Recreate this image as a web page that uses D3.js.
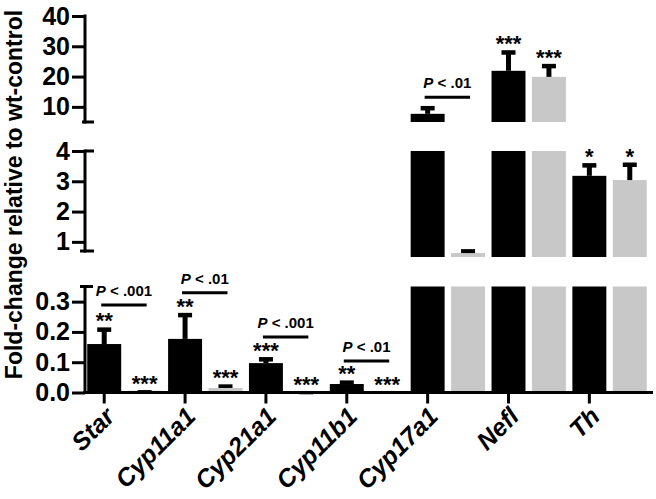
<!DOCTYPE html>
<html><head><meta charset="utf-8">
<script src="https://cdn.jsdelivr.net/npm/d3@7"></script>
<style>
body{margin:0;background:#fff}
svg text{font-family:"Liberation Sans",Arial,sans-serif;font-weight:bold;fill:#000}
</style>
</head><body><svg id="c" width="656" height="499"></svg>
<script>
const genes = ["Star","Cyp11a1","Cyp21a1","Cyp11b1","Cyp17a1","Nefl","Th"];
const series = ["black","grey"];
const blackValues = [0.160, 0.177, 0.097, 0.028, 7.7, 21.9, 3.18];
const blackErrors = [0.055, 0.086, 0.020, 0.012, 2.6, 6.8, 0.42];
const greyValues  = [0.006, 0.015, 0.003, 0.004, 0.63, 19.9, 3.04];
const greyErrors  = [0.002, 0.012, 0.001, 0.001, 0.13, 4.3, 0.58];
const blackStars = ["**","**","***","**","","***","*"];
const greyStars  = ["***","***","***","***","","***","*"];
const pGenes   = ["Star","Cyp11a1","Cyp21a1","Cyp11b1","Cyp17a1"];
const pTexts   = [".001",".01",".001",".01",".01"];
const pHeights = [0.289, 0.329, 0.183, 0.104, 13.2];
const segDomains = [[0,0.35],[0.5,4],[5,40]];
const segTicks = [[0,0.1,0.2,0.3],[1,2,3,4],[10,20,30,40]];
const yTitle = "Fold-change relative to wt-control";

const svg = d3.select("#c");
const colors = {black:"#000000", grey:"#c8c8c8"};
const axisX = 85, baseY = 392.5, rightX = 653;

const segRanges = [[392.5,286.5],[257,151],[122,16]];
const ys = segDomains.map((d,i)=>d3.scaleLinear().domain(d).range(segRanges[i]));
const segOf = v => v<=0.35 ? 0 : (v<=4.5 ? 1 : 2);
const yv = v => ys[segOf(v)](v);

const x0 = d3.scaleBand().domain(genes).range([84,650]).padding(0);
const x1 = d3.scaleBand().domain(series).range([0,x0.bandwidth()]).paddingInner(0.16).paddingOuter(0.08);
const bw = x1.bandwidth();

const data = [];
genes.forEach((g,i)=>{
  data.push({g, s:"black", v:blackValues[i], e:blackErrors[i], star:blackStars[i]});
  data.push({g, s:"grey", v:greyValues[i], e:greyErrors[i], star:greyStars[i]});
});

// bars (clipped into segments)
const barG = svg.append("g");
data.forEach(d=>{
  segDomains.forEach((dom,si)=>{
    if (d.v <= dom[0]) return;
    const top = Math.min(d.v, dom[1]);
    const y0 = ys[si](dom[0]), y1 = ys[si](top);
    barG.append("rect")
      .attr("x", x0(d.g)+x1(d.s)).attr("width", bw)
      .attr("y", y1).attr("height", Math.max(0.8, y0-y1))
      .attr("fill", colors[d.s]);
  });
});

// error bars
const errG = svg.append("g");
data.forEach(d=>{
  const cx = x0(d.g)+x1(d.s)+bw/2;
  const yb = yv(d.v), yt = yv(d.v+d.e);
  errG.append("line").attr("x1",cx).attr("x2",cx).attr("y1",yb).attr("y2",yt+2)
    .attr("stroke","#000").attr("stroke-width",5);
  errG.append("rect").attr("x",cx-7).attr("width",14).attr("y",yt).attr("height",Math.max(3, Math.min(4.5, yb-yt)))
    .attr("fill","#000");
  if (d.star) {
    errG.append("text").attr("x",cx).attr("y",yt+1).attr("text-anchor","middle")
      .style("font-size","22px").text(d.star);
  }
});

// p-value brackets
pGenes.forEach((g,i)=>{
  const xa = x0(g)+x1("black")+bw/2 - 3;
  const xb = x0(g)+x1("grey")+bw/2 + 2;
  const y = yv(pHeights[i]);
  svg.append("line").attr("x1",xa).attr("x2",xb).attr("y1",y).attr("y2",y)
    .attr("stroke","#000").attr("stroke-width",3);
  const t = svg.append("text").attr("x",(xa+xb)/2).attr("y",y-9).attr("text-anchor","middle")
    .style("font-size","15px");
  t.append("tspan").style("font-style","italic").text("P");
  t.append("tspan").text(" < " + pTexts[i]);
});

// y axis segments
const fmts = [d3.format(".1f"), d3.format("d"), d3.format("d")];
segDomains.forEach((dom,i)=>{
  const g = svg.append("g").attr("transform",`translate(${axisX},0)`)
    .call(d3.axisLeft(ys[i]).tickValues(segTicks[i]).tickSize(13).tickSizeOuter(0).tickPadding(2).tickFormat(fmts[i]));
  g.select(".domain").remove();
  g.selectAll(".tick line").attr("stroke","#000").attr("stroke-width",3);
  g.selectAll(".tick text").style("font-size","25px").style("font-family","'Liberation Sans',Arial,sans-serif").style("font-weight","bold").attr("fill","#000");
});
const axisLines = [[286.5,392.5],[151,251],[16,122]];
axisLines.forEach(([a,b])=>{
  svg.append("line").attr("x1",axisX).attr("x2",axisX).attr("y1",a-1.5).attr("y2",b+1.5)
    .attr("stroke","#000").attr("stroke-width",3);
});
[[286.5,80,93],[251,80,94],[151,85,94],[122,82,94]].forEach(([y,xa,xb])=>{
  svg.append("line").attr("x1",xa).attr("x2",xb).attr("y1",y).attr("y2",y)
    .attr("stroke","#000").attr("stroke-width",3);
});

// x axis
svg.append("line").attr("x1",axisX-1.5).attr("x2",rightX).attr("y1",baseY).attr("y2",baseY)
  .attr("stroke","#000").attr("stroke-width",3);
genes.forEach(g=>{
  const cx = x0(g)+x1("black")+bw/2;
  svg.append("line").attr("x1",cx).attr("x2",cx).attr("y1",baseY).attr("y2",baseY+11)
    .attr("stroke","#000").attr("stroke-width",3);
  svg.append("text").attr("text-anchor","end")
    .attr("transform",`translate(${cx+12},418) rotate(-45)`)
    .style("font-size","25px").style("font-style","italic").text(g);
});

// y title
svg.append("text").attr("text-anchor","middle")
  .attr("transform","translate(22,194.5) rotate(-90)")
  .style("font-size","23px").text(yTitle);
</script></body></html>
